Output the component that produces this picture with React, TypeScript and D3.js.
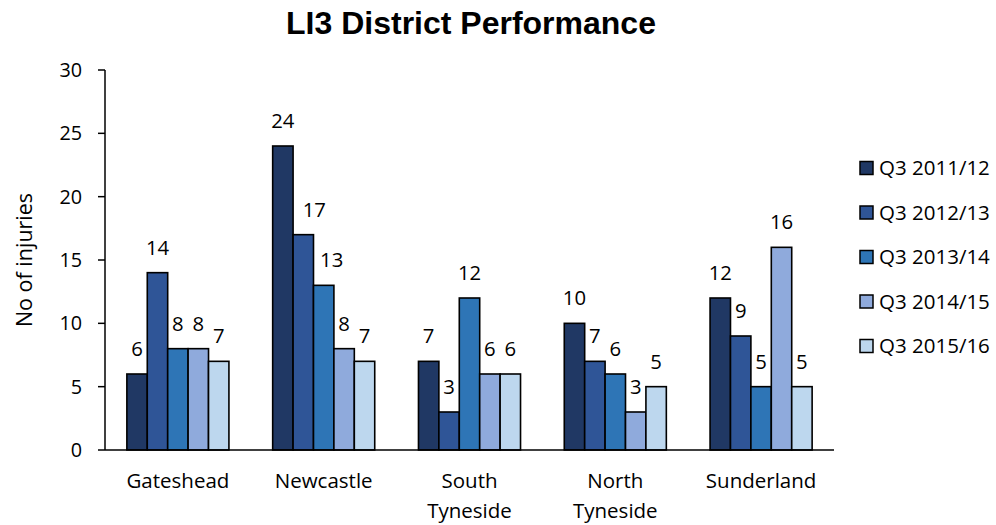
import React from "react";
import * as d3 from "d3";

// Districts along the x axis (multi-line names split on "\n")
const districts = ["Gateshead", "Newcastle", "South\nTyneside", "North\nTyneside", "Sunderland"];

// Quarter-3 periods, one bar per period in each district
const periods = ["Q3 2011/12", "Q3 2012/13", "Q3 2013/14", "Q3 2014/15", "Q3 2015/16"];

// Injury counts per period, in district order
const q3_2011 = [6, 24, 7, 10, 12];
const q3_2012 = [14, 17, 3, 7, 9];
const q3_2013 = [8, 13, 12, 6, 5];
const q3_2014 = [8, 8, 6, 3, 16];
const q3_2015 = [7, 7, 6, 5, 5];

const seriesValues = [q3_2011, q3_2012, q3_2013, q3_2014, q3_2015];

const yTicks = [0, 5, 10, 15, 20, 25, 30];

const colors = ["#203864", "#2F5597", "#2E75B6", "#8FAADC", "#BDD7EE"];

// Hand-nudged value labels (district index, period index) -> dx in px
const labelNudge: Record<string, number> = { "1-1": 11, "1-2": 8 };

const W = 996;
const H = 525;
const M = { left: 105, right: 834, top: 70, bottom: 450 };
const FONT = "'Open Sans', Lato, sans-serif";

export default function App() {
  const x = d3.scaleBand<string>().domain(districts).range([M.left, M.right]).paddingInner(0).paddingOuter(0);
  const groupFrac = 0.7;
  const inner = d3
    .scaleBand<string>()
    .domain(periods)
    .range([0, x.bandwidth() * groupFrac]);
  const groupOffset = (x.bandwidth() * (1 - groupFrac)) / 2;
  const y = d3.scaleLinear().domain([0, 30]).range([M.bottom, M.top]);

  const bars: React.ReactNode[] = [];
  const labels: React.ReactNode[] = [];
  districts.forEach((d, di) => {
    periods.forEach((p, pi) => {
      const v = seriesValues[pi][di];
      const bx = (x(d) as number) + groupOffset + (inner(p) as number);
      const bw = inner.bandwidth();
      bars.push(
        <rect
          key={`b-${di}-${pi}`}
          x={bx}
          y={y(v)}
          width={bw}
          height={y(0) - y(v)}
          fill={colors[pi]}
          stroke="#000"
          strokeWidth={1.6}
        />
      );
      const nudge = labelNudge[`${di}-${pi}`] || 0;
      labels.push(
        <text
          key={`l-${di}-${pi}`}
          x={bx + bw / 2 + nudge}
          y={y(v) - 18}
          textAnchor="middle"
          fontSize={20.3}
          fontFamily={FONT}
          fill="#000"
        >
          {v}
        </text>
      );
    });
  });

  return (
    <svg
      width={W}
      height={H}
      viewBox={`0 0 ${W} ${H}`}
      style={{ position: "absolute", left: 0, top: 0, background: "#fff" }}
    >
      <rect width={W} height={H} fill="#fff" />
      <text
        x={471}
        y={34.3}
        textAnchor="middle"
        fontFamily="Arial, 'Liberation Sans', Arimo, sans-serif"
        fontWeight="bold"
        fontSize={32}
        fill="#000"
      >
        LI3 District Performance
      </text>

      {/* y axis */}
      <line x1={M.left} x2={M.left} y1={M.top} y2={M.bottom} stroke="#000" strokeWidth={1.5} />
      {yTicks.map((t) => (
        <g key={`t-${t}`}>
          <line x1={M.left - 7} x2={M.left} y1={y(t)} y2={y(t)} stroke="#000" strokeWidth={1.5} />
          <text
            x={82}
            y={y(t)}
            dy="0.36em"
            textAnchor="end"
            fontSize={19.8}
            fontFamily={FONT}
            fill="#000"
          >
            {t}
          </text>
        </g>
      ))}
      <text
        transform={`translate(32, ${(M.top + M.bottom) / 2}) rotate(-90)`}
        textAnchor="middle"
        fontSize={21.5}
        fontFamily={FONT}
        fill="#000"
      >
        No of injuries
      </text>

      {bars}
      {labels}

      {/* x axis */}
      <line x1={M.left} x2={M.right} y1={M.bottom} y2={M.bottom} stroke="#000" strokeWidth={1.5} />
      {districts.map((d) => {
        const cx = (x(d) as number) + x.bandwidth() / 2;
        return (
          <text key={`x-${d}`} textAnchor="middle" fontSize={20.5} fontFamily={FONT} fill="#000">
            {d.split("\n").map((line, i) => (
              <tspan key={i} x={cx} y={488 + i * 30}>
                {line}
              </tspan>
            ))}
          </text>
        );
      })}

      {/* legend */}
      {periods.map((p, i) => {
        const ly = 168 + i * 44.5;
        return (
          <g key={`lg-${p}`}>
            <rect x={860} y={ly - 6.5} width={13} height={13} fill={colors[i]} stroke="#000" strokeWidth={1.5} />
            <text x={879} y={ly} dy="0.36em" fontSize={20.5} fontFamily={FONT} fill="#000">
              {p}
            </text>
          </g>
        );
      })}
    </svg>
  );
}
